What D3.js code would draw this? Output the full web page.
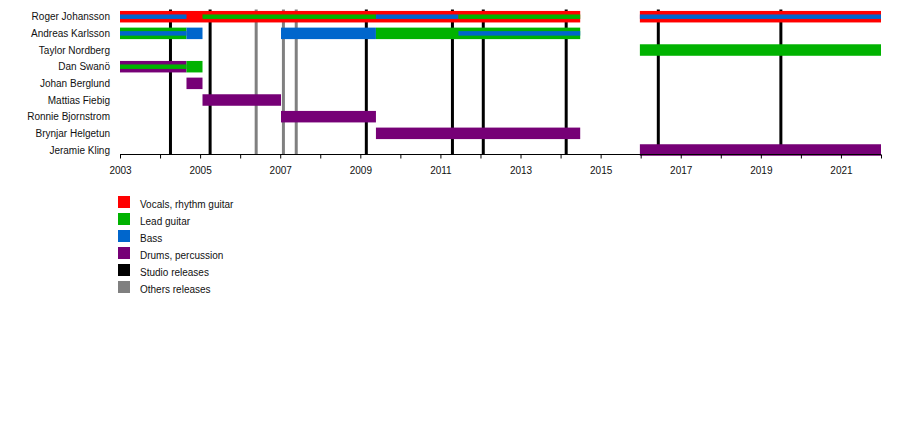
<!DOCTYPE html>
<html><head><meta charset="utf-8">
<script src="https://cdn.jsdelivr.net/npm/d3@7"></script>
<style>
html,body{margin:0;padding:0;background:#fff;}
svg{display:block;font-family:"Liberation Sans",Arial,sans-serif;}
</style></head>
<body><svg id="chart" width="900" height="424"></svg>
<script>
const members = ["Roger Johansson","Andreas Karlsson","Taylor Nordberg","Dan Swanö","Johan Berglund","Mattias Fiebig","Ronnie Bjornstrom","Brynjar Helgetun","Jeramie Kling"];
const roleNames = ["Vocals, rhythm guitar","Lead guitar","Bass","Drums, percussion"];
const roleColors = ["#ff0000","#00b200","#0066cc","#760076"];
const releaseNames = ["Studio releases","Others releases"];
const releaseColors = ["#000000","#808080"];
// [member index, start, end, role index]
const fullBars = [
  [0,2003,2014.49,0],[0,2015.98,2022,0],
  [1,2003,2004.66,1],[1,2004.66,2005.06,2],[1,2007.02,2009.39,2],[1,2009.39,2014.49,1],
  [2,2015.98,2022,1],
  [3,2003,2004.66,3],[3,2004.66,2005.06,1],
  [4,2004.66,2005.06,3],
  [5,2005.06,2007.02,3],
  [6,2007.02,2009.39,3],
  [7,2009.39,2014.49,3],
  [8,2015.98,2022,3]
];
const innerBars = [
  [0,2003,2004.66,2],[0,2005.06,2009.39,1],[0,2009.39,2011.45,2],[0,2011.45,2014.49,1],[0,2015.98,2022,2],
  [1,2003,2004.66,2],[1,2011.45,2014.49,2],
  [3,2003,2004.66,1]
];
const studioReleases = [2004.26,2005.25,2009.15,2011.30,2012.07,2014.14,2016.44,2019.50];
const otherReleases = [2006.40,2007.08,2007.40];
const yearTicks = d3.range(2003,2023);
const labelYears = d3.range(2003,2022,2);

const svg = d3.select("#chart");
const x = d3.scaleLinear().domain([2003,2022]).range([120,881]);
const y = d3.scalePoint().domain(members).range([16.7,150]);
const axisY = 154.5;
const barH = 11.5, innerH = 4.5;

// release lines
const lines = svg.append("g");
lines.selectAll(".other").data(otherReleases).join("line")
  .attr("x1",d=>x(d)).attr("x2",d=>x(d)).attr("y1",9.5).attr("y2",axisY)
  .attr("stroke",releaseColors[1]).attr("stroke-width",3);
lines.selectAll(".studio").data(studioReleases).join("line")
  .attr("x1",d=>x(d)).attr("x2",d=>x(d)).attr("y1",9.5).attr("y2",axisY)
  .attr("stroke",releaseColors[0]).attr("stroke-width",3);

// bars
svg.append("g").selectAll("rect").data(fullBars).join("rect")
  .attr("x",d=>x(d[1])).attr("width",d=>x(d[2])-x(d[1]))
  .attr("y",d=>y(members[d[0]])-barH/2).attr("height",barH)
  .attr("fill",d=>roleColors[d[3]]);
svg.append("g").selectAll("rect").data(innerBars).join("rect")
  .attr("x",d=>x(d[1])).attr("width",d=>x(d[2])-x(d[1]))
  .attr("y",d=>y(members[d[0]])-innerH/2).attr("height",innerH)
  .attr("fill",d=>roleColors[d[3]]);

// names
svg.append("g").selectAll("text").data(members).join("text")
  .attr("x",110).attr("y",d=>y(d)).attr("dy","0.35em")
  .attr("text-anchor","end").attr("font-size",10).attr("fill","#111")
  .text(d=>d);

// axis
const axis = d3.axisBottom(x).tickValues(yearTicks).tickSize(4).tickPadding(8)
  .tickFormat(d=>labelYears.includes(d)?String(d):"");
const ag = svg.append("g").attr("transform",`translate(0,${axisY})`).call(axis);
ag.select(".domain").attr("stroke","#000").attr("d",`M${x(2003)},0H${x(2022)}`);
ag.selectAll(".tick line").attr("stroke","#000");
ag.selectAll(".tick text").attr("font-size",10).attr("font-family","Liberation Sans, Arial, sans-serif").attr("fill","#111");

// legend
const legendItems = roleNames.map((n,i)=>({name:n,color:roleColors[i]}))
  .concat(releaseNames.map((n,i)=>({name:n,color:releaseColors[i]})));
const lg = svg.append("g").selectAll("g").data(legendItems).join("g")
  .attr("transform",(d,i)=>`translate(118,${196+i*17})`);
lg.append("rect").attr("width",12).attr("height",12).attr("fill",d=>d.color);
lg.append("text").attr("x",22).attr("y",11.5).attr("font-size",10).attr("fill","#111").text(d=>d.name);
</script></body></html>
